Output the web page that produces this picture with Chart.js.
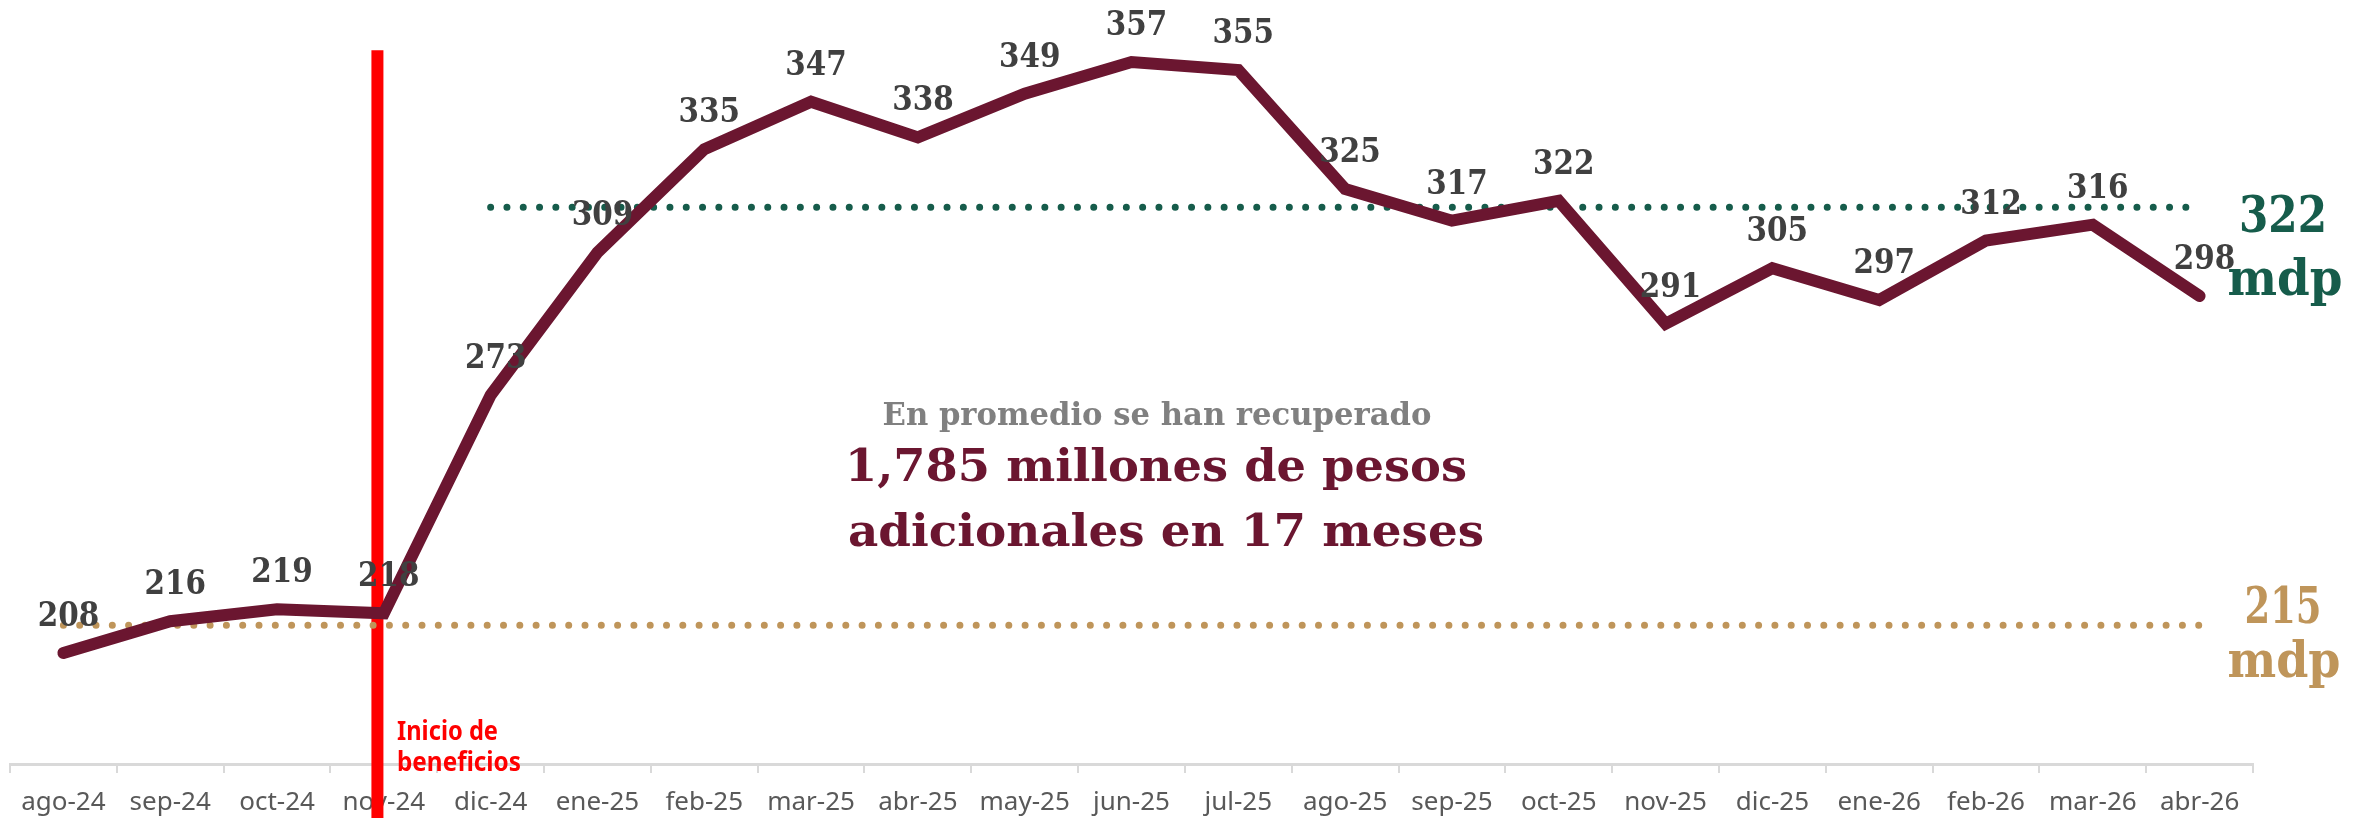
<!DOCTYPE html>
<html>
<head>
<meta charset="utf-8">
<script src="https://cdn.jsdelivr.net/npm/chart.js@4.4.1/dist/chart.umd.min.js"></script>
<style>
  html, body { margin: 0; padding: 0; background: #ffffff; }
  #wrap { width: 2369px; height: 818px; }
</style>
</head>
<body>
<div id="wrap"><canvas id="c" width="2369" height="818"></canvas></div>
<script>
// ---- data ----
const categories = ['ago-24','sep-24','oct-24','nov-24','dic-24','ene-25','feb-25','mar-25','abr-25','may-25','jun-25','jul-25','ago-25','sep-25','oct-25','nov-25','dic-25','ene-26','feb-26','mar-26','abr-26'];
const recaudacion = [208, 216, 219, 218, 273, 309, 335, 347, 338, 349, 357, 355, 325, 317, 322, 291, 305, 297, 312, 316, 298];
const promedioAntes = 215;      // dotted line level before benefits
const promedioDespues = 320.4;  // dotted line level after benefits (as drawn)
const inicioDespues = 4;        // index where the "after" average starts
const etiquetaAntes = ['215', 'mdp'];
const etiquetaDespues = ['322', 'mdp'];
const inicioBeneficios = 2.94;  // position of the red marker (category index units)
const marcadorRango = [360, 160];
const textoCentro = ['En promedio se han recuperado', '1,785 millones de pesos', 'adicionales en 17 meses'];
const textoInicio = ['Inicio de', 'beneficios'];

const lineaAntes = categories.map(() => promedioAntes);
const lineaDespues = categories.map((_, i) => i >= inicioDespues ? promedioDespues : null);

function fitText(ctx, text, x, y, font, color, width, align) {
  ctx.save();
  ctx.font = font;
  ctx.fillStyle = color;
  ctx.textBaseline = 'alphabetic';
  ctx.textAlign = align || 'center';
  const w = ctx.measureText(text).width;
  ctx.translate(x, y);
  ctx.scale(width / w, 1);
  ctx.fillText(text, 0, 0);
  ctx.restore();
}

const labelsPlugin = {
  id: 'labels',
  afterDatasetsDraw(chart) {
    const ctx = chart.ctx;
    const meta = chart.getDatasetMeta(0);
    meta.data.forEach((pt, i) => {
      const t = String(recaudacion[i]);
      fitText(ctx, t, pt.x + 5, pt.y - 27, 'bold 33px "DejaVu Serif"', '#404040', 20.5 * t.length);
    });

    // center annotation
    fitText(ctx, textoCentro[0], 1157, 425, '600 32px "DejaVu Serif"', '#808080', 549);
    fitText(ctx, textoCentro[1], 1156, 481, 'bold 44px "DejaVu Serif"', '#6b1630', 622);
    fitText(ctx, textoCentro[2], 1166, 546, 'bold 44px "DejaVu Serif"', '#6b1630', 636);

    // right labels
    fitText(ctx, etiquetaDespues[0], 2283, 232, 'bold 51px "DejaVu Serif"', '#165c4b', 88);
    fitText(ctx, etiquetaDespues[1], 2285, 295, 'bold 51px "DejaVu Serif"', '#165c4b', 115);
    fitText(ctx, etiquetaAntes[0], 2283, 623, 'bold 51px "DejaVu Serif"', '#bf955a', 77);
    fitText(ctx, etiquetaAntes[1], 2284, 677, 'bold 51px "DejaVu Serif"', '#bf955a', 113);

    // red marker label
    fitText(ctx, textoInicio[0], 397, 740, 'bold 26px "Noto Sans"', '#ff0000', 101, 'left');
    fitText(ctx, textoInicio[1], 397, 771, 'bold 26px "Noto Sans"', '#ff0000', 124, 'left');
  }
};

new Chart(document.getElementById('c'), {
  type: 'line',
  data: {
    labels: categories,
    datasets: [
      {
        data: recaudacion,
        borderColor: '#6b1630',
        borderWidth: 12,
        pointRadius: 0,
        tension: 0,
        borderCapStyle: 'round',
        borderJoinStyle: 'miter',
        fill: false,
        order: 0
      },
      {
        data: lineaDespues,
        borderColor: '#165c4b',
        borderWidth: 7,
        borderDash: [0, 16.3],
        borderCapStyle: 'round',
        pointRadius: 0,
        fill: false,
        order: 1
      },
      {
        data: lineaAntes,
        borderColor: '#bf955a',
        borderWidth: 7,
        borderDash: [0, 16.3],
        borderCapStyle: 'round',
        pointRadius: 0,
        fill: false,
        order: 1
      },
      {
        data: [{x: inicioBeneficios, y: marcadorRango[0]}, {x: inicioBeneficios, y: marcadorRango[1]}],
        xAxisID: 'x2',
        borderColor: '#ff0000',
        borderWidth: 12,
        borderCapStyle: 'butt',
        pointRadius: 0,
        clip: false,
        fill: false,
        order: 2
      }
    ]
  },
  options: {
    responsive: false,
    animation: false,
    devicePixelRatio: 1,
    layout: { padding: { left: 10, right: 116, top: 10.5, bottom: 0 } },
    plugins: { legend: { display: false }, tooltip: { enabled: false } },
    scales: {
      x: {
        type: 'category',
        offset: true,
        grid: { offset: true, drawOnChartArea: false, drawTicks: true, tickLength: 9, color: '#d9d9d9', lineWidth: 2 },
        border: { display: true, color: '#d9d9d9', width: 3 },
        ticks: { color: '#595959', font: { family: '"Noto Sans"', size: 26 }, padding: 14, maxRotation: 0, autoSkip: false },
        afterFit(scale) { scale.height = 54; }
      },
      x2: { type: 'linear', display: false, min: -0.5, max: 20.5 },
      y: { display: false, min: 180, max: 370 }
    }
  },
  plugins: [labelsPlugin]
});
</script>
</body>
</html>
